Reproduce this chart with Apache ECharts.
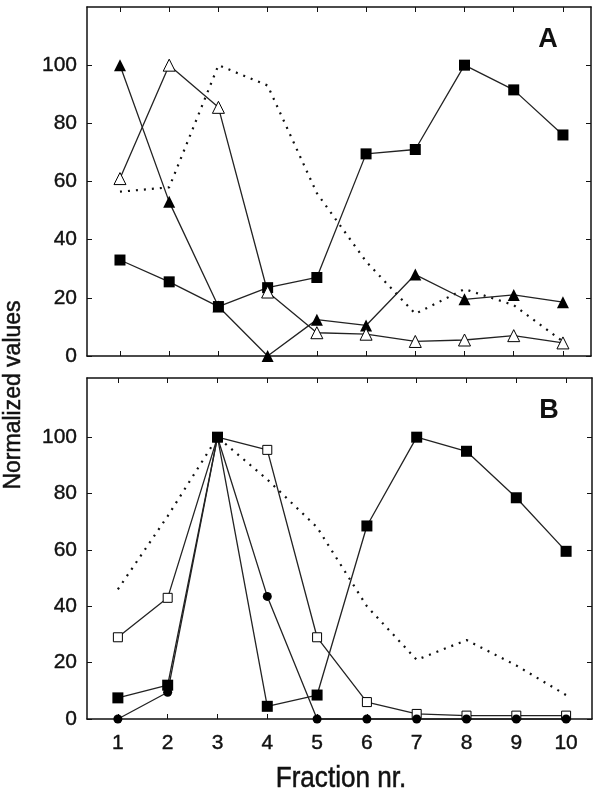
<!DOCTYPE html>
<html>
<head>
<meta charset="utf-8">
<script src="https://cdn.jsdelivr.net/npm/echarts@6/dist/echarts.min.js"></script>
<style>
html,body{margin:0;padding:0;background:#fff;}
#chart{width:600px;height:796px;}
</style>
</head>
<body>
<div id="chart"></div>
<script>
// ---- data ----
const fractions = [1, 2, 3, 4, 5, 6, 7, 8, 9, 10];
const yTicks = [0, 20, 40, 60, 80, 100];

// Panel A
const aSquaresFilled = [33, 25.5, 17, 23.5, 27, 69.5, 71, 100, 91.5, 76];
const aTrianglesFilled = [100, 53, 17, 0, 12.5, 10.5, 28, 19.5, 21, 18.5];
const aTrianglesOpen = [61, 100, 85.5, 22, 8, 7.5, 5, 5.5, 7, 4.5];
const aDotted = [56.5, 58, 100, 93, 56, 32.5, 14.5, 23, 17.5, 5];

// Panel B
const bSquaresFilled = [7.5, 12, 100, 4.5, 8.5, 68.5, 100, 95, 78.5, 59.5];
const bSquaresOpen = [29, 43, 100, 95.5, 29, 6, 1.8, 1.2, 1.2, 1.2];
const bCirclesFilled = [0, 9.5, 100, 43.5, 0, 0, 0, 0, 0, 0];
const bDotted = [46, 72, 100, 85, 68, 40, 21, 28, 19, 8.5];

const FONT = 'Liberation Sans, Arial, sans-serif';
const INK = '#111';

function pts(arr) { return fractions.map((f, i) => [f, arr[i]]); }

const labelStyle = { fontSize: 21, fontFamily: FONT, color: INK, textBorderColor: INK, textBorderWidth: 0.4 };

function xAx(gridIndex, pos, min, max, labels) {
  return {
    type: 'value', gridIndex, position: pos, min, max,
    axisLine: { show: true, onZero: false, lineStyle: { color: INK, width: 1.5 } },
    axisTick: { show: true, inside: true, length: 5, customValues: fractions, lineStyle: { color: INK, width: 1 } },
    axisLabel: Object.assign({ show: labels, customValues: fractions, margin: 14 }, labelStyle),
    splitLine: { show: false }
  };
}
function yAx(gridIndex, pos, max, labels) {
  return {
    type: 'value', gridIndex, position: pos, min: 0, max,
    axisLine: { show: true, onZero: false, lineStyle: { color: INK, width: 1.5 } },
    axisTick: { show: true, inside: true, length: 5, customValues: yTicks, lineStyle: { color: INK, width: 1 } },
    axisLabel: Object.assign({ show: labels, customValues: yTicks, margin: 10 }, labelStyle),
    splitLine: { show: false }
  };
}

function lineSeries(data, xi, yi, symbol, size, filled) {
  return {
    type: 'line', xAxisIndex: xi, yAxisIndex: yi, data: pts(data),
    symbol, symbolSize: size, showSymbol: true, clip: false,
    lineStyle: { color: '#222', width: 1.3 },
    itemStyle: { color: filled ? '#000' : '#fff', borderColor: '#000', borderWidth: filled ? 0 : 1 },
    z: 3
  };
}
function dottedSeries(data, xi, yi) {
  return {
    type: 'line', xAxisIndex: xi, yAxisIndex: yi, data: pts(data),
    symbol: 'none', clip: false,
    lineStyle: { color: '#111', width: 2.2, type: [2, 6] },
    z: 2
  };
}

const chart = echarts.init(document.getElementById('chart'), null, { renderer: 'canvas' });
chart.setOption({
  animation: false,
  backgroundColor: '#fff',
  grid: [
    { left: 87, top: 7, right: 9, height: 349 },
    { left: 87, top: 378, right: 8, height: 341 }
  ],
  xAxis: [
    xAx(0, 'bottom', 0.33, 10.57, false),
    xAx(0, 'top', 0.33, 10.57, false),
    xAx(1, 'bottom', 0.38, 10.52, true),
    xAx(1, 'top', 0.38, 10.52, false)
  ],
  yAxis: [
    yAx(0, 'left', 120, true),
    yAx(0, 'right', 120, false),
    yAx(1, 'left', 121, true),
    yAx(1, 'right', 121, false)
  ],
  series: [
    dottedSeries(aDotted, 0, 0),
    lineSeries(aSquaresFilled, 0, 0, 'rect', 11, true),
    lineSeries(aTrianglesFilled, 0, 0, 'triangle', 12, true),
    lineSeries(aTrianglesOpen, 0, 0, 'triangle', 12, false),
    dottedSeries(bDotted, 2, 2),
    lineSeries(bSquaresOpen, 2, 2, 'rect', 9, false),
    lineSeries(bCirclesFilled, 2, 2, 'circle', 9, true),
    lineSeries(bSquaresFilled, 2, 2, 'rect', 11, true)
  ],
  graphic: [
    { type: 'text', x: 548, y: 40, style: { text: 'A', fontSize: 27, fontWeight: 'bold', fontFamily: FONT, fill: INK, align: 'center', verticalAlign: 'middle' } },
    { type: 'text', x: 549, y: 411, style: { text: 'B', fontSize: 27, fontWeight: 'bold', fontFamily: FONT, fill: INK, align: 'center', verticalAlign: 'middle' } },
    { type: 'text', x: 341, y: 779, scaleX: 0.9, style: { text: 'Fraction nr.', fontSize: 29, fontFamily: FONT, fill: INK, stroke: INK, lineWidth: 0.5, align: 'center', verticalAlign: 'middle' } },
    { type: 'text', x: 14, y: 395, rotation: Math.PI / 2, style: { text: 'Normalized values', fontSize: 23, fontFamily: FONT, fill: INK, stroke: INK, lineWidth: 0.5, align: 'center', verticalAlign: 'middle' } }
  ]
});
</script>
</body>
</html>
